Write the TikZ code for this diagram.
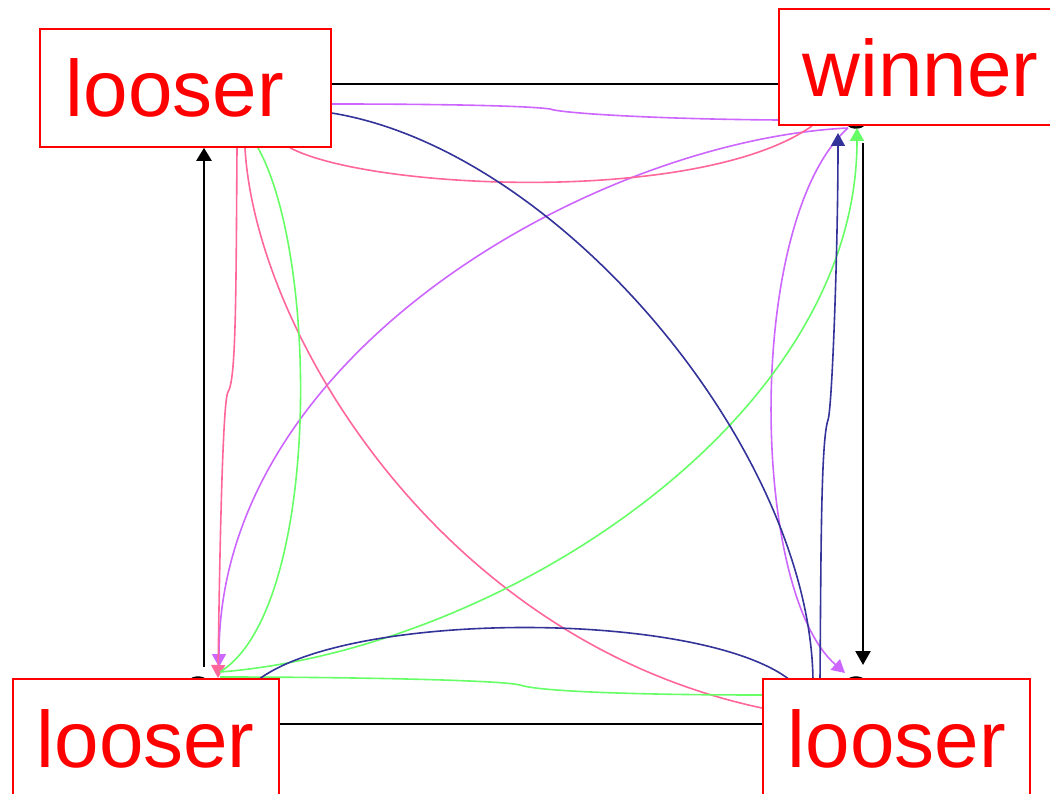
\documentclass[tikz,border=0pt]{standalone}
\usepackage{fontspec}
\setmainfont{Liberation Sans}
\usetikzlibrary{arrows.meta,calc}
\pgfdeclarelayer{bg}
\pgfsetlayers{bg,main}
\definecolor{boxred}{HTML}{FF0000}
\definecolor{cpurple}{HTML}{CC66FF}
\definecolor{cpink}{HTML}{FF6699}
\definecolor{cgreen}{HTML}{66FF66}
\definecolor{cnavy}{HTML}{333399}
\tikzset{
  player/.style={draw=boxred, line width=1.6pt, fill=white, text=boxred,
    font=\fontsize{80}{80}\selectfont, inner ysep=0pt, align=left,
    text height=88pt, anchor=base west},
  corner/.style={circle, draw=black, line width=2.4pt, fill=white, minimum size=27pt, inner sep=0pt},
  blk/.style={draw=black, line width=2.3pt},
  arc/.style={line width=1.6pt},
  tip/.style={-{Triangle[length=13pt,width=14pt]}},
}
\begin{document}
\begin{tikzpicture}[x=1pt,y=-1pt]
\useasboundingbox (0,0) rectangle (1050,794);
% players
\path (39,117) node[player, inner xsep=26pt, text width=239pt, text depth=30pt] (tl) {looser};
\path (778,97) node[player, inner xsep=24pt, text width=262pt, text depth=28pt] (tr) {winner};
\path (12,767) node[player, inner xsep=24pt, text width=218pt, text depth=42pt] (bl) {looser};
\path (762,767) node[player, inner xsep=25pt, text width=217pt, text depth=42pt] (br) {looser};
\begin{pgfonlayer}{bg}
% vertex circles, mostly hidden behind the boxes
\node[corner] (cbl) at (198,691) {};
\node[corner] (ctr) at (856,114) {};
\node[corner] (cbr) at (856,691) {};
% named end points
\coordinate (lstart) at (204,667);
\coordinate (rstart) at (863,143);
\coordinate (rend) at (863,665);
\coordinate (blin) at (219,667);
\coordinate (blin2) at (218,678);
\coordinate (blout) at (220,672);
\coordinate (blout2) at (220,677);
\coordinate (blout3) at (258,680);
\coordinate (trin) at (838,133);
\coordinate (trin2) at (857,128);
\coordinate (trout) at (848,128);
\coordinate (trout2) at (812,126);
\coordinate (brin) at (845,673);
\coordinate (brout) at (820,680);
\coordinate (brout2) at (790,680);
\coordinate (brin2) at (813,680);
% black square edges
\draw[blk] (tl.east |- 0,84) -- (tr.west |- 0,84);
\draw[blk] (bl.east |- 0,724) -- (br.west |- 0,724);
\draw[blk, -{Triangle[length=13pt,width=15pt]}] (lstart) -- (tl.south -| lstart);
\draw[blk, -{Triangle[length=14pt,width=15pt]}] (rstart) -- (rend);
% purple
\draw[arc, cpurple] (tl.east |- 0,104) .. controls (450,104) and (530,106) .. (550,109)
   .. controls (560,113) and (650,119) .. (tr.west |- 0,120);
\draw[arc, cpurple, tip] (trout) .. controls (600,140) and (219,350) .. (blin);
\draw[arc, cpurple, tip] (trout) .. controls (745,220) and (750,590) .. (brin);
% pink
\draw[arc, cpink] (tl.south -| 290,0) .. controls (370,190) and (700,205) .. (trout2);
\draw[arc, cpink] (tl.south -| 245,0) .. controls (255,330) and (440,640) .. (br.west |- 0,708);
\draw[arc, cpink, tip] (tl.south -| 237,0) .. controls (236,300) and (236,380) .. (228,392)
   .. controls (222,400) and (219,600) .. (blin2);
% green
\draw[arc, cgreen] (tl.south -| 258,0) .. controls (320,260) and (320,610) .. (blout);
\draw[arc, cgreen, tip] (blout) .. controls (500,650) and (857,420) .. (trin2);
\draw[arc, cgreen] (blout2) .. controls (350,677) and (500,680) .. (520,685)
   .. controls (540,692) and (650,695) .. (br.west |- 0,695);
% navy
\draw[arc, cnavy] (tl.east |- 0,113) .. controls (560,150) and (810,450) .. (brin2);
\draw[arc, cnavy] (blout3) .. controls (350,610) and (700,610) .. (brout2);
\draw[arc, cnavy, tip] (brout) .. controls (821,550) and (821,440) .. (828,420)
   .. controls (832,410) and (838,250) .. (trin);
\end{pgfonlayer}
\end{tikzpicture}
\end{document}
